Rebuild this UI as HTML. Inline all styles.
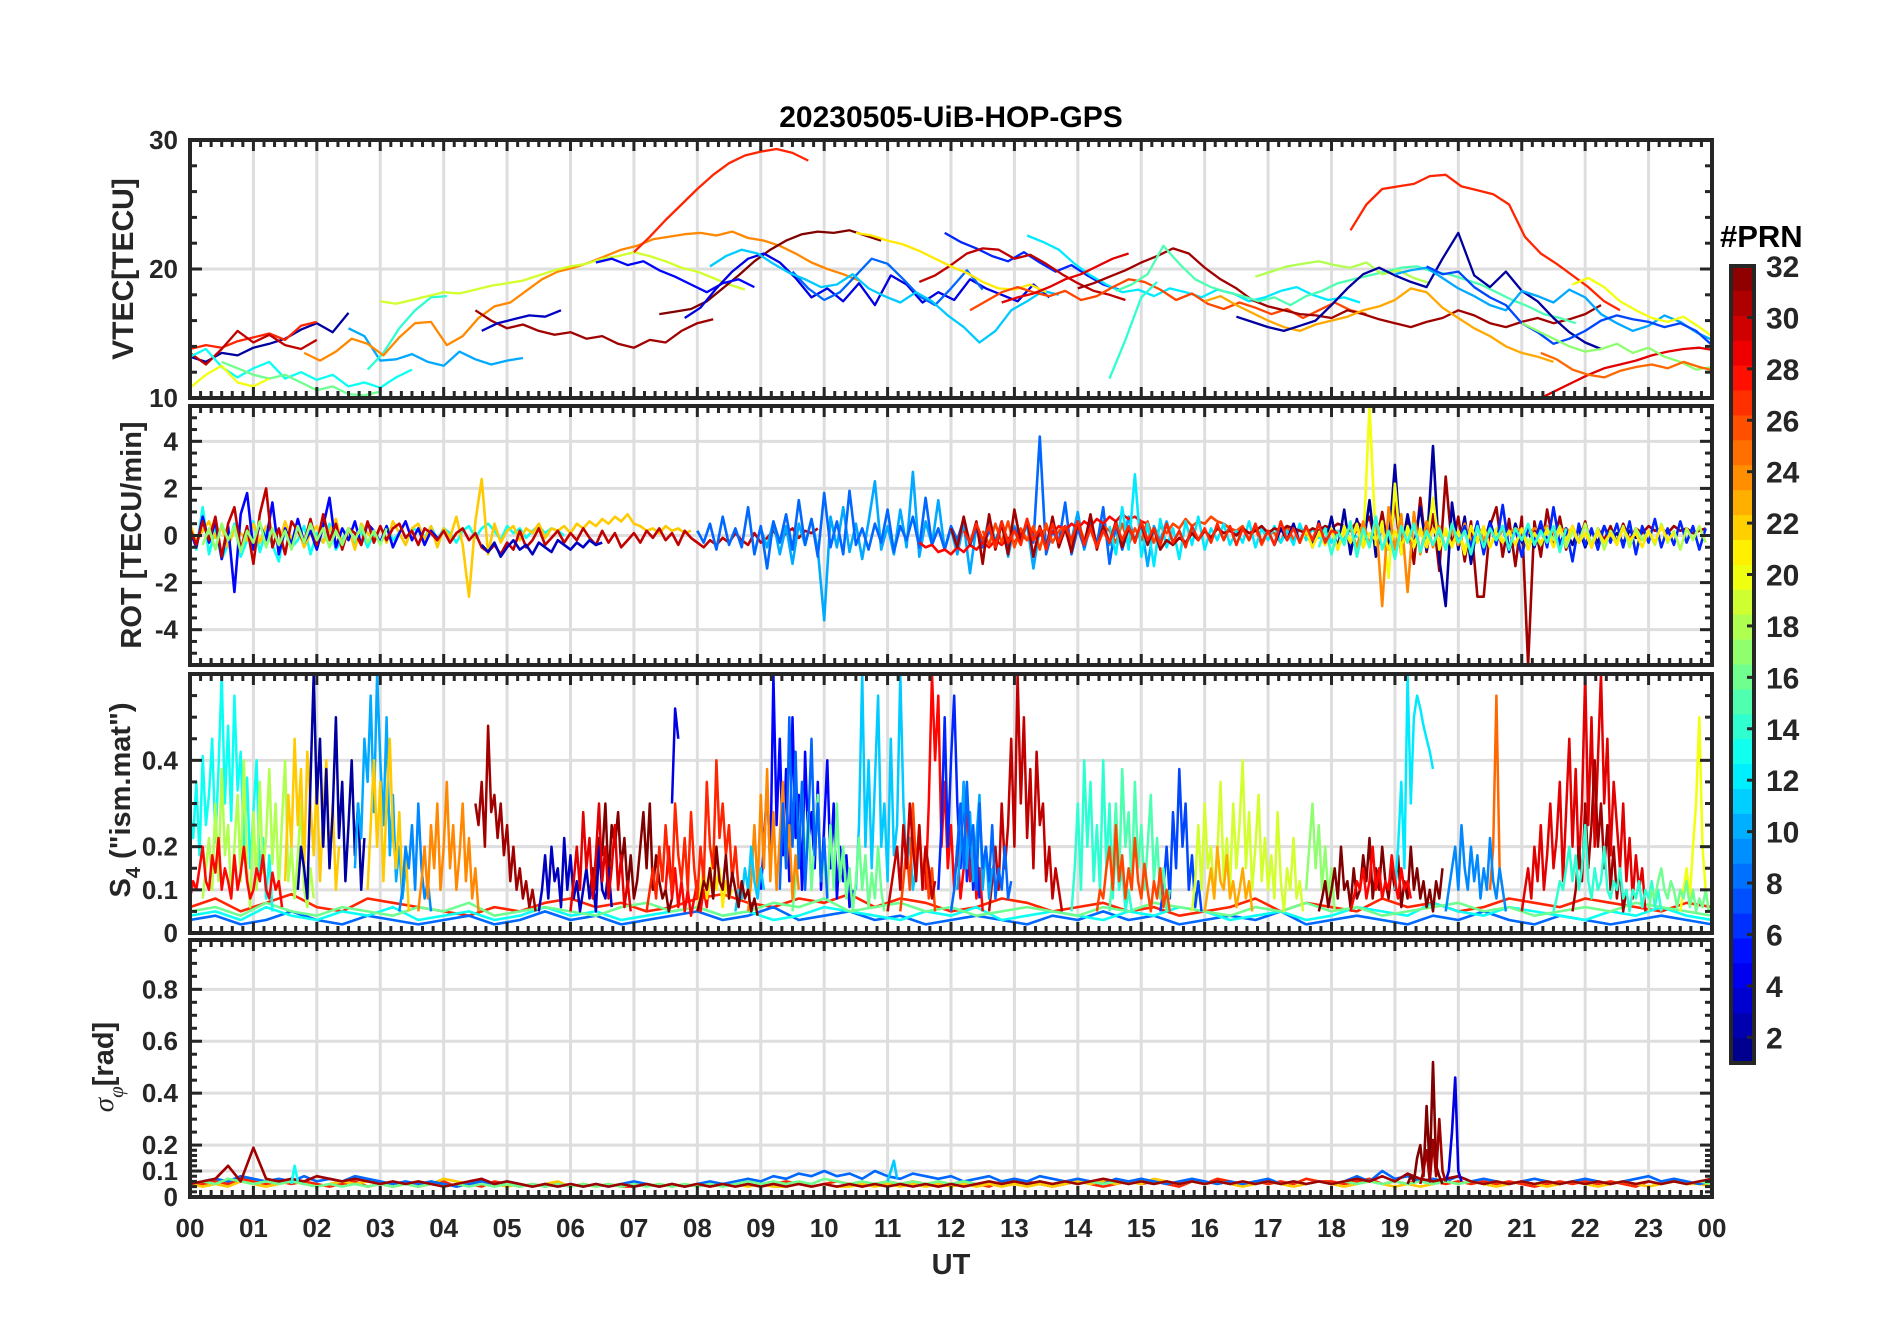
<!DOCTYPE html>
<html><head><meta charset="utf-8"><title>20230505-UiB-HOP-GPS</title>
<style>
html,body{margin:0;padding:0;background:#fff;}
svg{display:block;font-family:"Liberation Sans",Arial,sans-serif;}
</style></head>
<body>
<svg id="fig" width="1902" height="1330" viewBox="0 0 1902 1330" xmlns="http://www.w3.org/2000/svg">
<rect width="1902" height="1330" fill="#fff"/>
<text x="951" y="127" text-anchor="middle" font-size="30" font-weight="bold" fill="#000">20230505-UiB-HOP-GPS</text>
<g id="grids"></g>
<g id="series"></g>
<g id="axes"></g>
<text transform="translate(133,269) rotate(-90)" text-anchor="middle" font-size="30" font-weight="bold" fill="#262626">VTEC[TECU]</text>
<text transform="translate(141,535) rotate(-90)" text-anchor="middle" font-size="29" font-weight="bold" fill="#262626">ROT [TECU/min]</text>
<text transform="translate(130,800) rotate(-90)" text-anchor="middle" font-size="29" font-weight="bold" fill="#262626">S<tspan font-size="20" dy="10">4</tspan><tspan dy="-10"> ("ism.mat")</tspan></text>
<text transform="translate(113,1067) rotate(-90)" text-anchor="middle" font-size="29" fill="#262626"><tspan font-style="italic" font-family="Liberation Serif,serif">σ</tspan><tspan font-style="italic" font-family="Liberation Serif,serif" font-size="21" dy="10">φ</tspan><tspan dy="-10" font-weight="bold">[rad]</tspan></text>
<text x="951" y="1274" text-anchor="middle" font-size="29" font-weight="bold" fill="#262626">UT</text>
<g id="colorbar"></g>
<text x="1720" y="247" font-size="31" font-weight="bold" fill="#000">#PRN</text>
</svg>
<script>
// ---------- VTEC data (hours, TECU), step 0.25 h ----------
const vtecStep = 0.25;
const vtecPrn = [2,27,30,13,16,20,10,14,24,19,31,32,3,27,5,4,8,11,6,30,21,12,26,29,31,14,15,18,23,2,27,10,7,29,20,17,25];
const vtecStart = [0,0,0,0,0.5,0,2.5,2.8,1.8,3,4.5,7.4,4.6,7.0,6.4,7.8,9.5,8.2,11.9,11.5,10.5,13.2,12.3,12.8,14,14.5,14.6,16.8,16.0,16.5,18.3,19,19.5,21.3,21.8,21,21.3];
const vtecVals = [
[13.2,12.8,13.5,13.3,13.9,14.2,14.6,15.3,15.8,15.1,16.6],
[13.8,14.1,13.9,14.4,14.7,15.0,14.5,15.6,15.9],
[13.5,12.6,13.8,15.2,14.3,14.9,14.1,13.8,14.5],
[13.2,13.8,12.4,11.6,12.3,12.8,11.5,12.0,11.4,11.8,10.9,11.2,10.8,11.6,12.2],
[12.8,12.3,11.8,11.5,11.8,11.2,10.6,10.9,10.3,10.2,10.5],
[10.8,11.8,12.5,11.2,10.9,11.5],
[15.4,14.8,12.9,13.0,13.4,12.8,12.5,13.6,13.0,12.6,12.9,13.1],
[12.2,13.5,15.4,16.8,17.8,17.9],
[13.5,12.9,13.6,14.6,14.2,13.3,14.7,15.8,15.9,14.1,14.8,16.2,17.1,17.4,18.3,19.2,19.8,20.1,20.5,21.0,21.5,21.8,22.3,22.5,22.7,22.8,22.6,22.9,22.4,22.2,21.8,21.2,20.5,20.0,19.6,19.1],
[17.5,17.3,17.6,17.9,18.2,18.1,18.4,18.7,18.9,19.1,19.5,19.9,20.2,20.4,20.8,21.0,21.3,21.0,20.6,20.1,19.8,19.3,18.8,18.4],
[16.8,16.0,15.4,15.7,15.2,14.9,15.1,14.6,14.8,14.2,13.9,14.5,14.3,15.2,15.8,16.1],
[16.5,16.7,16.9,17.5,18.5,19.5,20.6,21.5,22.2,22.7,22.9,22.8,23.0,22.6,22.2],
[15.2,15.8,16.1,16.4,16.3,16.8],
[21.3,22.5,23.8,25.0,26.2,27.3,28.2,28.8,29.1,29.3,29.0,28.4],
[20.5,20.8,20.3,20.6,19.9,19.4,18.8,18.2,18.9,19.2,18.6],
[16.2,17.0,18.5,19.8,20.8,21.2,20.5,19.3,17.8,18.5,17.5,18.9,17.2,19.5,18.8,17.4,18.2,17.6,19.2,18.5,18.0,17.5,18.8,17.8],
[19.8,18.5,17.6,18.2,19.5,20.8,20.4,19.2,17.9,17.2,18.5,19.9,18.4],
[20.2,21.0,21.5,21.2,20.4,19.7,19.2,18.6,18.8,19.6,18.5,17.9,17.4,18.2,17.5,16.4,15.5,14.3,15.2,16.8,17.5,18.3,18.0],
[22.8,22.1,21.6,21.0,20.6,21.3,20.5,19.8,20.3,19.5,18.8,18.4],
[19.0,19.5,20.3,21.2,21.6,21.5,20.8,21.1,20.4,19.6,18.9,18.3,18.0,17.6],
[22.8,22.6,22.2,21.9,21.4,20.8,20.2,19.7,19.0,18.5,18.4,18.8,18.2],
[22.6,22.1,21.5,20.4,19.5,18.8,18.2,18.4,17.9,18.5,18.2,17.8,18.4,18.1,17.5,17.8,18.3,18.6,18.0,17.6,17.8,17.4],
[16.8,17.5,18.2,18.6,18.2,17.9,18.3,17.6,17.9,18.6,19.2,19.0,18.4,17.6,18.1,17.3,16.9,17.4,17.0,16.5,16.9,16.2,16.8,17.4,16.8,16.5],
[17.4,17.8,18.1,18.6,19.2,19.6,20.2,20.8,21.2],
[18.5,18.9,19.4,19.9,20.5,21.0,21.6,21.2,20.1,19.2,18.5,17.6,17.1,16.8,16.5,16.4,16.2,16.8,16.5,16.1,15.8,15.5,15.9,16.2,16.8,16.4,15.8,15.5,15.9,16.2,15.8,16.1,16.5,17.2],
[11.5,14.5,17.8,19.0],
[18.3,18.8,19.6,21.8,20.4,19.2,18.6,18.2,17.9,17.5,17.8,17.2,17.9,18.3,18.9,19.2,19.5,19.8,20.1,20.2,19.8,19.6,19.2,18.8,18.2,17.6,17.1,16.5,16.2,15.8],
[19.4,19.8,20.2,20.4,20.6,20.3,20.1,20.5,19.6,19.9,19.3,18.9],
[17.5,17.9,17.2,16.6,16.0,15.5,15.2,15.7,16.0,16.3,16.8,17.1,17.6,18.5,18.2,17.0,16.2,15.4,14.8,14.0,13.5,13.2,12.8],
[16.3,15.9,15.5,15.2,15.6,16.0,17.2,18.5,19.6,20.1,19.5,19.0,18.6,20.8,22.8,19.5,18.6,19.8,18.3,17.5,16.2,15.1,14.3,13.8],
[23.0,25.0,26.2,26.4,26.6,27.2,27.3,26.4,26.1,25.8,25.0,22.5,21.2,20.4,19.5,18.6,17.5,16.8],
[19.6,19.9,20.1,19.3,18.5,17.9,17.2,16.8,18.3,17.9,17.4,18.4,17.8,16.5,15.8,15.2,15.6,16.4,15.9,15.1,14.5,13.8,14.2,13.4,12.8,13.1,12.6,12.2,11.5,12.1],
[20.2,19.6,19.8,18.6,17.8,17.2,15.8,15.1,14.2,14.6,15.2,16.0,16.4,16.1,15.9,15.5,15.8,15.2,14.1,13.4,12.5,12.0,11.4,11.0],
[10.0,10.6,11.2,11.8,12.3,12.6,12.9,13.3,13.6,13.8,13.9,13.7,13.5,13.8,14.1],
[18.8,19.3,18.6,17.5,16.8,16.2,15.9,16.3,15.5,14.6,14.2,13.4,13.1,12.6,12.3,11.4,11.2],
[15.8,15.2,14.6,14.0,13.6,13.8,14.2,13.5,13.9,13.2,12.8,12.2,12.4,12.1,12.5],
[13.5,13.0,12.2,11.8,11.6,12.1,12.4,12.6,12.3,12.8,12.4,12.1,12.5]
];

// ---------- ROT data (TECU/min), step 0.1 h ----------
const rotStep = 0.1;
const rotPrn = [13,22,5,30,3,10,8,28,26,12,31,2,20,24,6,18,21,14,27,17];
const rotStart = [0,0,0,0,4.6,9.0,8.0,11.5,12.5,14.5,12.0,17.0,17.8,18.3,20.0,21.0,17.5,17.8,12.2,0.2];
const rotVals = [
[0.4,-0.6,1.2,-0.8,0.3,-1.0,-0.4,0.5,-0.9,-0.2,0.6,-0.7,0.2,-0.4,-1.1,0.3,-0.5,-0.2,0.4,-0.8,0.1,-0.3,0.5,-0.6,-0.2,0.3,-0.4,0.2,-0.5,0.1,-0.3,0.4,-0.2,0.1,-0.4,0.3,0.2,-0.1,0.4,-0.2,0.3,0.1,-0.3,0.2,0.4,-0.1,0.3,0.5,0.2,-0.2,0.4,0.1,0.3,-0.1,0.2,0.4,0.1,0.3,0.2,0.0],
[0.5,-0.3,0.2,0.6,-0.1,0.4,-0.5,0.3,0.1,-0.2,0.5,-0.3,0.4,0.2,-0.4,0.6,-0.2,0.3,-0.5,0.1,0.4,-0.3,0.2,0.7,-0.4,0.3,-0.6,0.5,0.1,-0.2,0.4,-0.3,0.6,0.1,-0.4,0.3,0.5,-0.2,0.4,-0.5,0.3,-0.1,0.8,-0.4,-2.6,0.6,2.4,-0.8,0.5,-0.3,0.2,0.4,-0.2,0.3,0.1,0.5,-0.1,0.3,0.2,0.4,0.1,0.5,0.3,0.6,0.4,0.7,0.5,0.8,0.6,0.9,0.5,0.4,0.2,0.3,0.1,0.4,0.2,0.3,0.1,0.2],
[0.2,-0.5,0.8,-0.3,0.6,-1.0,0.4,-2.4,0.9,1.8,-0.6,0.5,-0.2,1.4,-0.8,0.3,-0.4,0.7,-0.3,0.2,-0.6,0.4,1.6,-0.5,0.3,-0.2,0.6,-0.4,0.5,0.2,-0.3,0.4,-0.5,0.1,0.6,-0.2,0.3,-0.4,0.2,-0.1],
[0.3,-0.4,0.6,-0.2,0.8,-0.9,0.5,1.2,-0.6,0.4,-1.2,0.9,2.0,-0.5,0.3,-0.8,0.6,0.2,-0.3,0.7,-0.4,0.9,-0.2,0.5,-0.6,0.3,0.1,-0.4,0.6,-0.3,0.4,-0.2,0.3,0.5,-0.1,0.2,-0.4,0.3,0.1,-0.2,0.2,-0.3,0.1,0.3,-0.2,0.1,-0.5,-0.7,-0.4,-0.8,-0.3,-0.6,0.2,-0.5,-0.2,0.3,-0.4,-0.1,0.2,-0.3,0.1,-0.2,0.3,-0.1,-0.4,0.2,-0.3,0.1,-0.5,-0.2,0.1,-0.3,0.2,-0.1,0.3,-0.2,0.1,-0.4,0.2,-0.1,-0.3,-0.5,-0.2,-0.4,-0.1,-0.3,0.1,-0.2,-0.4,0.1,-0.3,-0.1,0.2,-0.2,0.1,0.3,-0.1,0.2,0.1,0.3],
[-0.4,-0.7,-0.3,-0.9,-0.5,-0.2,-0.6,-0.4,-0.8,-0.3,-0.5,-0.7,-0.2,-0.4,-0.6,-0.3,-0.5,-0.2,-0.4,-0.3],
[0.3,-0.5,0.6,-0.8,0.4,-1.2,0.5,-0.4,0.7,-0.6,-3.6,0.8,-0.5,1.2,-0.7,0.5,-1.0,0.6,2.3,-0.6,0.4,-0.8,1.1,-0.5,2.7,-0.9,0.6,-0.4,1.5,-0.6,0.3,-0.8,0.5,-1.6,0.4,-0.5,0.8,-0.3,0.6,-0.9,0.4,-0.3,0.5,-1.4,0.3,-0.5,0.7,-0.4,0.3,-0.2,1.0,-0.6,0.4,-0.3,0.6,-0.4,0.2,-0.5,0.8,-0.3,0.5,-1.3,0.4,-0.2,0.6,-0.3,0.2,-0.4,0.3,-0.2],
[0.2,-0.3,0.5,-0.6,0.8,-0.4,0.3,-0.5,1.2,-0.8,0.4,-1.4,0.6,-0.3,0.9,-0.6,1.5,-0.4,0.7,-0.9,1.8,-0.5,0.6,-0.8,1.9,-0.4,0.3,-0.6,0.5,-0.3,1.1,-0.7,0.4,-0.2,0.8,-0.5,1.6,-0.4,0.3,-0.6,0.4,-0.2,0.7,-0.4,0.3,-0.5,0.2,-0.3,0.6,-0.4,0.3,-0.2,0.5,-0.3,4.2,-0.8,0.2,-0.3,1.4,-0.8,0.3,-0.5,0.6,-0.4,1.2,-1.2,0.5,-0.6,0.3,-0.2],
[-0.3,-0.5,-0.4,-0.7,-0.6,-0.8,-0.5,-0.7,-0.4,-0.6,-0.3,-0.5,-0.2,-0.4,-0.1,-0.3,0.1,-0.2,0.2,0.0,0.3,0.1,0.4,0.2,0.5,0.3,0.6,0.4,0.7,0.5,0.8,0.6,0.9,0.7,0.8,0.6,0.5],
[0.2,-0.4,0.5,-0.3,0.6,-0.5,0.3,-0.2,0.4,-0.6,0.5,-0.3,0.2,0.4,-0.4,0.6,-0.2,0.3,-0.5,0.4,0.2,-0.3,0.5,-0.4,0.3,-0.2,0.6,-0.3,0.4,0.1,0.5,0.3,0.7,0.4,0.6,0.5,0.8,0.6,0.5,0.3,0.2,0.4,-0.2,0.3,-0.4,0.2,0.1,-0.3,0.4,-0.2,0.3,0.1,-0.4,0.2,-0.3,0.3,0.1,-0.2,0.4,0.1],
[0.4,-0.8,1.2,-0.6,2.6,-0.9,0.5,-1.3,0.7,-0.5,0.3,-1.0,0.6,-0.4,0.8,-0.6,0.3,-0.2,0.5,-0.4,0.2,-0.3,0.6,-0.5,0.3,-0.2,0.4,-0.3,0.2,-0.4,0.5,-0.2,0.3,-0.1,0.4,-0.3,0.2,-0.2,0.3,-0.1],
[0.3,-0.5,0.8,-0.4,0.6,-1.2,0.9,-0.6,0.5,-0.8,1.1,-0.3,0.7,-0.9,0.4,-0.6,0.8,-0.5,0.3,-0.7,0.6,-0.4,0.9,-0.6,0.4,-0.3,0.6,-0.5,0.3,-0.2,0.5,-0.4,0.3,-0.6,-0.2,-0.4,-0.1,-0.3,0.1,-0.2,0.2,-0.1,0.3,0.1,0.2,0.0,0.3,0.1,0.2,0.4,0.1,0.3,0.2,0.4,0.3,0.2,0.1,0.3,0.2,0.4,0.3,0.5,0.4,0.2,0.6,0.3,0.8,-0.4,1.0,-0.6,1.4,-0.8,0.6,-1.2,1.6,-0.7,0.9,-1.5,2.5,-0.5,0.8,-1.1,0.6,-2.6,-2.6,0.4,1.2,-0.9,0.7,-1.3,0.8,-5.5,0.6,-0.9,1.1,-0.4,0.8,-0.6,0.4,-0.3,0.6,-0.5,0.3,-0.2,0.4,-0.3,0.5,-0.2,0.3,0.1,0.4,0.2,0.3,0.1,0.4,0.2,0.3,0.1,0.2,0.3],
[0.2,-0.4,0.3,-0.2,0.5,-0.3,0.4,-0.5,0.6,-0.4,0.8,-0.6,1.1,-0.8,0.7,-0.5,1.5,-0.9,0.6,-0.4,3.0,-0.7,0.9,-0.5,1.2,-0.6,3.8,-1.0,-3.0,1.4,-0.6,0.8,-1.2,0.5,-0.4,0.6,-0.3,0.4,-0.7,0.5,-0.3,0.2,-0.5,0.4,-0.2,0.3,-0.6,0.2,-0.4,0.3,-0.5,0.2,-0.3,0.4,-0.2,0.1,-0.3,0.2,-0.1,0.2],
[0.2,-0.4,0.3,-0.6,0.4,-0.3,0.5,-0.5,5.5,-0.4,0.6,-1.8,2.2,-0.8,0.4,-0.5,0.3,-0.4,1.6,-0.6,0.3,-0.5,0.2,-0.8,0.4,-0.3,0.2,-0.5,0.3,-0.2],
[0.3,-0.5,0.6,-0.4,0.8,-3.0,1.2,-0.6,0.9,-2.4,1.0,-0.8,0.6,-0.5,0.4,-0.6,0.3,-0.4,0.5,-0.3,0.4,-0.2,0.3,-0.1,0.2,0.1,0.3,0.2,0.1,0.3,0.2,0.4,0.1,0.2,0.3,0.1],
[-0.3,0.4,-0.5,0.6,-0.8,0.5,-0.4,1.3,-0.6,0.3,-0.9,0.4,-0.3,0.6,-0.5,1.2,-0.4,0.3,-1.1,0.5,-0.4,0.3,-0.6,0.4,-0.3,0.5,-0.5,0.6,-0.8,0.4,-0.3,0.7,-0.5,0.3,-0.4,0.6,-0.3,0.4,-0.6,0.3],
[0.2,-0.3,0.1,-0.4,0.3,-0.2,0.4,-0.5,0.2,-0.3,0.5,-0.4,0.3,-0.6,0.2,-0.3,0.4,-0.5,0.3,-0.2,0.2,-0.4,0.5,-0.3,0.2,-0.6,0.3,-0.2,0.4,-0.3],
[-0.3,0.2,-0.5,0.1,-0.4,0.3,-0.6,0.2,-0.3,0.4,-0.5,0.1,-0.2,0.3,-0.6,0.2,-0.4,0.1,-0.3,0.2,-0.5,0.3,-0.2,0.1,-0.4,0.2,-0.6,0.3,-0.2,0.4,-0.5,0.1,-0.3,0.2,-0.4,0.3,-0.6,0.1,-0.3,0.2,-0.5,0.3,-0.2,0.4,-0.3,0.1,-0.5,0.2,-0.3,0.1,-0.4,0.3,-0.2,0.1,-0.5,0.2,-0.3,0.4,-0.2,0.1],
[-0.5,0.3,-0.8,0.2,-0.4,0.6,-0.9,0.3,-0.5,0.8,-0.6,0.2,-1.0,0.4,-0.3,0.5,-0.7,0.2,-0.4,0.3,-0.6,0.5,-0.3,0.2,-0.8,0.4,-0.5,0.3,-0.2,0.4,-0.6,0.3,-0.2,0.5,-0.4,0.2,-0.3,0.4,-0.7,0.3],
[0.2,-0.3,0.5,-0.2,0.4,-0.5,0.6,-0.3,0.2,-0.4,0.7,-0.2,0.3,-0.6,0.5,-0.3,0.4,-0.2,0.6,-0.4,0.3,-0.5,0.2,-0.3,0.5,-0.2,0.4,-0.3,0.6,-0.2,0.3,-0.4,0.5,-0.3,0.2,-0.5,0.4,-0.2,0.3,-0.3,0.5,-0.2,0.4,-0.4,0.3,-0.2,0.5,-0.3,0.2,-0.4,0.6,-0.2,0.3,-0.3,0.4,-0.2,0.5,-0.3,0.2,0.1],
[-0.4,0.3,-0.6,0.5,-0.2,0.4,-0.7,0.2,-0.3,0.6,-0.5,0.3,-0.4,0.2,-0.6,0.4,-0.3,0.5,-0.2,0.3,-0.5,0.2,-0.4,0.3,-0.2,0.4,-0.3,0.2,-0.4,0.3]
];

// ---------- S4 data, step 0.05 h ----------
const s4Step = 0.05;
const s4Prn = [13,18,22,2,10,22,9,31,32,3,4,28,5,11,16,28,30,14,7,19,17,32,12,25,29,31,20,24,8,26,6,10,21,15,29,24,28,27,11,32,8,30,26,23,28,9,14,16];
const s4Start = [0,0.2,1.5,1.7,2.6,2.8,3.3,4.5,6.3,5.5,7.6,7.5,9.0,10.5,9.5,11.6,12.6,13.9,15.3,15.8,17.6,17.8,19.0,20.5,21.0,21.8,23.5,8.8,9.3,11.2,11.8,12.1,8.0,14.5,6.0,3.6,0,7.2,8.6,8.0,12.0,11.0,14.3,16.0,18.3,19.8,21.5,23.0];
const s4Vals = [
[0.28,0.22,0.35,0.18,0.41,0.25,0.32,0.45,0.21,0.38,0.6,0.3,0.48,0.26,0.55,0.33,0.42,0.2,0.36,0.15,0.28,0.4,0.12,0.22,0.08,0.18,0.05],
[0.08,0.15,0.22,0.1,0.3,0.12,0.38,0.18,0.25,0.08,0.2,0.32,0.12,0.4,0.15,0.06,0.28,0.1,0.35,0.14,0.22,0.38,0.16,0.3,0.1,0.26,0.4,0.12,0.2,0.08,0.18,0.3,0.1,0.06,0.15,0.08],
[0.12,0.32,0.2,0.45,0.25,0.38,0.15,0.42,0.3,0.18,0.36,0.12,0.28,0.4,0.16,0.3,0.1,0.2],
[0.1,0.2,0.15,0.08,0.35,0.6,0.3,0.45,0.2,0.38,0.15,0.28,0.5,0.22,0.35,0.12,0.25,0.4,0.18,0.3,0.1,0.22],
[0.15,0.3,0.22,0.45,0.35,0.55,0.28,0.6,0.4,0.25,0.5,0.18,0.32,0.12,0.2,0.08,0.15],
[0.1,0.25,0.4,0.2,0.35,0.12,0.3,0.45,0.22,0.15,0.28,0.1,0.2,0.05],
[0.05,0.1,0.2,0.15,0.25,0.1,0.3,0.15,0.08,0.12,0.05],
[0.3,0.25,0.35,0.2,0.48,0.28,0.32,0.22,0.3,0.18,0.25,0.12,0.2,0.1,0.15,0.08,0.12,0.06,0.1,0.05],
[0.08,0.15,0.1,0.22,0.18,0.3,0.12,0.25,0.2,0.28,0.15,0.22,0.1,0.18,0.08,0.12,0.2,0.28,0.15,0.3,0.1,0.18,0.12,0.08,0.1,0.05,0.08],
[0.05,0.1,0.18,0.08,0.2,0.12,0.15,0.06,0.22,0.1,0.18,0.08,0.12,0.05,0.1,0.15,0.08,0.12,0.05,0.2,0.1,0.08,0.15,0.06],
[0.3,0.52,0.45],
[0.1,0.2,0.08,0.15,0.06,0.12,0.05,0.1,0.04,0.08,0.12,0.05,0.1,0.06,0.15,0.08],
[0.1,0.2,0.35,0.15,0.6,0.25,0.45,0.18,0.38,0.12,0.5,0.22,0.32,0.1,0.42,0.2,0.28,0.15,0.35,0.1,0.25,0.4,0.15,0.3,0.08,0.2,0.12,0.18,0.06,0.1],
[0.1,0.25,0.6,0.2,0.4,0.15,0.35,0.55,0.2,0.3,0.12,0.45,0.18,0.25,0.6,0.3,0.15,0.22,0.1,0.15],
[0.05,0.12,0.2,0.35,0.15,0.28,0.1,0.22,0.32,0.12,0.18,0.08,0.25,0.1,0.3,0.12,0.2,0.08,0.15,0.05,0.12,0.22,0.1,0.18,0.06,0.14,0.08,0.2,0.1,0.05],
[0.1,0.3,0.6,0.4,0.55,0.2,0.35,0.15,0.25,0.1,0.2,0.08,0.15,0.3,0.12,0.22,0.08,0.15,0.05],
[0.05,0.12,0.2,0.1,0.3,0.15,0.25,0.45,0.2,0.6,0.3,0.5,0.22,0.38,0.15,0.42,0.25,0.3,0.12,0.2,0.08,0.15,0.1,0.05],
[0.05,0.15,0.3,0.1,0.4,0.2,0.35,0.12,0.25,0.1,0.4,0.15,0.3,0.08,0.2,0.1,0.15,0.05,0.1,0.05],
[0.05,0.1,0.2,0.08,0.28,0.15,0.38,0.2,0.3,0.1,0.18,0.06,0.12,0.05],
[0.05,0.12,0.25,0.1,0.3,0.15,0.2,0.08,0.18,0.35,0.12,0.22,0.1,0.3,0.15,0.25,0.4,0.15,0.28,0.1,0.2,0.32,0.12,0.22,0.1,0.18,0.08,0.28,0.12,0.05,0.15,0.1,0.22,0.08,0.12,0.05],
[0.1,0.2,0.3,0.15,0.25,0.1,0.2,0.08,0.15,0.05],
[0.05,0.08,0.12,0.06,0.1,0.15,0.08,0.2,0.1,0.12,0.06,0.15,0.08,0.1,0.18,0.12,0.22,0.08,0.15,0.1,0.2,0.12,0.08,0.15,0.1,0.18,0.06,0.12,0.08,0.2,0.1,0.15,0.08,0.12,0.06,0.1,0.05,0.12,0.08,0.15],
[0.1,0.2,0.35,0.15,0.6,0.3,0.5,0.55,0.52,0.48,0.45,0.42,0.38],
[0.1,0.2,0.55,0.15,0.1],
[0.05,0.1,0.15,0.08,0.2,0.12,0.25,0.1,0.18,0.3,0.15,0.22,0.35,0.12,0.28,0.45,0.2,0.38,0.15,0.3,0.6,0.25,0.5,0.2,0.4,0.6,0.3,0.45,0.18,0.35,0.25,0.15,0.3,0.12,0.22,0.08,0.18,0.1,0.15,0.05],
[0.05,0.1,0.2,0.12,0.3,0.15,0.25,0.4,0.2,0.3,0.15,0.25,0.1,0.2,0.08,0.15,0.05,0.1],
[0.05,0.1,0.15,0.08,0.2,0.3,0.5,0.2,0.1,0.05],
[0.05,0.12,0.25,0.1,0.32,0.15,0.38,0.12,0.28,0.1,0.22,0.35,0.15,0.25,0.08,0.18,0.1],
[0.1,0.3,0.15,0.5,0.2,0.42,0.15,0.35,0.1,0.25,0.45,0.18,0.3,0.12,0.22,0.08],
[0.05,0.12,0.2,0.1,0.3,0.15,0.25,0.12,0.2,0.08,0.15,0.05],
[0.1,0.25,0.5,0.2,0.4,0.55,0.3,0.15,0.35,0.12,0.25,0.1,0.2,0.08],
[0.1,0.2,0.35,0.15,0.28,0.12,0.22,0.32,0.1,0.2,0.08,0.15],
[0.05,0.1,0.15,0.08,0.12,0.2,0.1,0.15,0.06,0.12,0.08,0.1],
[0.05,0.15,0.3,0.12,0.38,0.2,0.28,0.1,0.35,0.15,0.25,0.1,0.2,0.32,0.12,0.22,0.08,0.15,0.05,0.1],
[0.05,0.12,0.2,0.1,0.28,0.15,0.22,0.08,0.18,0.3,0.12,0.2,0.08,0.15,0.25,0.1,0.18,0.06,0.12,0.05],
[0.05,0.12,0.2,0.08,0.25,0.15,0.3,0.1,0.2,0.35,0.15,0.25,0.1,0.18,0.3,0.12,0.22,0.08,0.15,0.05],
[0.08,0.12,0.1,0.15,0.2,0.12,0.1,0.18,0.14,0.22,0.1,0.15,0.12,0.08,0.18,0.1,0.14,0.2,0.12,0.08,0.1,0.15,0.12,0.18,0.1,0.08,0.14,0.1,0.12,0.06],
[0.05,0.1,0.15,0.08,0.2,0.12,0.25,0.15,0.1,0.3,0.18,0.12,0.22,0.1,0.28,0.15,0.08,0.2,0.12,0.35,0.2,0.15,0.4,0.22,0.3,0.18,0.25,0.12,0.2,0.1],
[0.05,0.1,0.08,0.15,0.1,0.2,0.12,0.08,0.15,0.1],
[0.05,0.08,0.12,0.1,0.15,0.08,0.2,0.12,0.1,0.18,0.08,0.14,0.1,0.06,0.12,0.08,0.1,0.05,0.08,0.04],
[0.05,0.1,0.2,0.3,0.15,0.35,0.2,0.25,0.1,0.3,0.15,0.2,0.12,0.25,0.08,0.15,0.1,0.2,0.08,0.12],
[0.05,0.1,0.15,0.2,0.1,0.25,0.15,0.3,0.2,0.12,0.25,0.1,0.2,0.15,0.08,0.12],
[0.05,0.1,0.08,0.15,0.2,0.1,0.25,0.12,0.18,0.08,0.15,0.1,0.22,0.12,0.08,0.16,0.1,0.05,0.12,0.08,0.15,0.06,0.1,0.05],
[0.05,0.1,0.15,0.08,0.2,0.12,0.1,0.18,0.08,0.12,0.06,0.1,0.15,0.08,0.12,0.05],
[0.05,0.08,0.12,0.1,0.15,0.08,0.12,0.2,0.1,0.15,0.08,0.12,0.1,0.18,0.12,0.08,0.15,0.1,0.12,0.08],
[0.05,0.1,0.15,0.2,0.1,0.25,0.15,0.1,0.2,0.12,0.18,0.08,0.15,0.1,0.22,0.12,0.08,0.15,0.1,0.05],
[0.05,0.08,0.12,0.1,0.15,0.2,0.12,0.18,0.1,0.15,0.25,0.12,0.08,0.15,0.1,0.12,0.2,0.1,0.08,0.12,0.1,0.15,0.08,0.1,0.05,0.1,0.08,0.12,0.06,0.1,0.08,0.12,0.06,0.1,0.05],
[0.05,0.1,0.08,0.12,0.15,0.1,0.08,0.12,0.1,0.06,0.1,0.08,0.12,0.06,0.1,0.05,0.08,0.06,0.1,0.05]
];
// low S4 background, step 0.4 h from 0 h
const s4BaseStep = 0.4;
const s4BasePrn = [27,8,13,16];
const s4BaseVals = [
[0.06,0.08,0.05,0.07,0.09,0.06,0.05,0.08,0.07,0.06,0.05,0.04,0.06,0.05,0.07,0.08,0.06,0.07,0.05,0.06,0.08,0.09,0.07,0.06,0.08,0.07,0.09,0.06,0.08,0.07,0.05,0.06,0.08,0.07,0.05,0.06,0.07,0.05,0.06,0.04,0.05,0.06,0.08,0.05,0.07,0.06,0.05,0.08,0.06,0.07,0.05,0.06,0.08,0.07,0.06,0.08,0.07,0.06,0.05,0.07,0.06],
[0.03,0.04,0.02,0.03,0.05,0.03,0.02,0.04,0.03,0.02,0.03,0.04,0.02,0.03,0.05,0.03,0.04,0.02,0.03,0.04,0.05,0.03,0.04,0.06,0.03,0.04,0.05,0.03,0.04,0.02,0.03,0.04,0.03,0.02,0.04,0.03,0.05,0.03,0.04,0.02,0.03,0.04,0.03,0.05,0.02,0.03,0.04,0.03,0.02,0.04,0.03,0.05,0.03,0.02,0.04,0.03,0.02,0.03,0.04,0.03,0.02],
[0.04,0.05,0.03,0.06,0.04,0.03,0.05,0.04,0.06,0.03,0.04,0.05,0.03,0.04,0.06,0.04,0.05,0.03,0.04,0.05,0.06,0.04,0.05,0.03,0.04,0.06,0.05,0.04,0.03,0.05,0.04,0.06,0.03,0.04,0.05,0.04,0.03,0.05,0.04,0.06,0.05,0.03,0.04,0.05,0.03,0.04,0.06,0.05,0.04,0.07,0.05,0.04,0.06,0.05,0.04,0.03,0.05,0.04,0.06,0.04,0.03],
[0.05,0.06,0.04,0.07,0.05,0.04,0.06,0.05,0.04,0.06,0.05,0.07,0.04,0.05,0.06,0.05,0.04,0.06,0.07,0.05,0.06,0.04,0.05,0.07,0.06,0.08,0.05,0.06,0.07,0.05,0.06,0.04,0.05,0.06,0.05,0.04,0.06,0.05,0.07,0.06,0.05,0.04,0.06,0.05,0.07,0.05,0.06,0.04,0.05,0.06,0.07,0.05,0.06,0.04,0.05,0.06,0.05,0.07,0.06,0.05,0.04]
];

// ---------- sigma-phi data (rad) ----------
const sigStep = 0.2;
const sigBasePrn = [27,22,8,16,31];
const sigBaseVals = [
[0.04,0.05,0.06,0.05,0.07,0.06,0.05,0.06,0.05,0.06,0.05,0.04,0.05,0.06,0.04,0.05,0.04,0.05,0.04,0.05,0.06,0.04,0.05,0.04,0.06,0.05,0.04,0.05,0.04,0.05,0.04,0.05,0.04,0.05,0.04,0.04,0.05,0.04,0.05,0.04,0.05,0.04,0.05,0.04,0.05,0.04,0.05,0.06,0.05,0.04,0.05,0.06,0.05,0.04,0.05,0.06,0.05,0.06,0.05,0.04,0.05,0.06,0.05,0.04,0.06,0.05,0.06,0.05,0.04,0.05,0.06,0.05,0.04,0.05,0.06,0.05,0.06,0.05,0.04,0.06,0.05,0.07,0.06,0.05,0.06,0.05,0.06,0.05,0.07,0.06,0.06,0.05,0.06,0.07,0.05,0.06,0.05,0.07,0.06,0.05,0.06,0.05,0.06,0.05,0.06,0.05,0.04,0.05,0.06,0.05,0.06,0.05,0.06,0.05,0.04,0.06,0.05,0.06,0.05,0.06,0.05],
[0.05,0.04,0.05,0.04,0.06,0.05,0.04,0.05,0.06,0.05,0.04,0.05,0.06,0.05,0.06,0.05,0.04,0.05,0.06,0.05,0.07,0.06,0.05,0.06,0.05,0.04,0.05,0.04,0.05,0.06,0.04,0.05,0.04,0.05,0.04,0.05,0.04,0.05,0.04,0.05,0.04,0.05,0.04,0.05,0.04,0.05,0.04,0.04,0.05,0.04,0.05,0.04,0.04,0.05,0.04,0.05,0.04,0.05,0.04,0.05,0.04,0.05,0.04,0.05,0.04,0.05,0.04,0.05,0.04,0.05,0.06,0.05,0.06,0.05,0.06,0.05,0.07,0.06,0.05,0.06,0.05,0.06,0.05,0.04,0.05,0.06,0.05,0.04,0.05,0.06,0.05,0.04,0.05,0.06,0.05,0.04,0.05,0.04,0.05,0.06,0.05,0.06,0.05,0.04,0.05,0.06,0.05,0.04,0.05,0.06,0.05,0.04,0.05,0.06,0.05,0.04,0.05,0.06,0.05,0.05,0.04],
[0.05,0.06,0.07,0.06,0.08,0.07,0.06,0.07,0.06,0.08,0.06,0.07,0.06,0.08,0.07,0.06,0.05,0.06,0.05,0.06,0.05,0.04,0.05,0.06,0.05,0.06,0.05,0.04,0.05,0.04,0.05,0.04,0.05,0.04,0.05,0.06,0.05,0.04,0.05,0.04,0.05,0.06,0.05,0.06,0.07,0.06,0.08,0.07,0.09,0.08,0.1,0.08,0.09,0.07,0.1,0.08,0.07,0.09,0.08,0.07,0.08,0.06,0.07,0.08,0.06,0.07,0.06,0.08,0.07,0.06,0.07,0.06,0.05,0.07,0.06,0.07,0.06,0.05,0.06,0.07,0.06,0.05,0.06,0.05,0.06,0.07,0.05,0.06,0.05,0.06,0.05,0.06,0.08,0.06,0.1,0.07,0.08,0.06,0.07,0.06,0.08,0.06,0.07,0.06,0.05,0.06,0.07,0.06,0.05,0.06,0.07,0.06,0.05,0.06,0.07,0.08,0.06,0.07,0.06,0.05,0.06],
[0.05,0.06,0.05,0.07,0.06,0.05,0.06,0.05,0.06,0.05,0.04,0.05,0.04,0.05,0.04,0.05,0.04,0.05,0.04,0.05,0.04,0.05,0.04,0.05,0.04,0.05,0.04,0.05,0.04,0.05,0.04,0.05,0.04,0.05,0.04,0.05,0.04,0.05,0.04,0.05,0.04,0.05,0.04,0.05,0.06,0.05,0.06,0.05,0.06,0.05,0.07,0.06,0.05,0.06,0.05,0.06,0.05,0.06,0.05,0.06,0.05,0.06,0.05,0.06,0.05,0.06,0.05,0.06,0.05,0.06,0.05,0.06,0.05,0.06,0.05,0.06,0.05,0.06,0.05,0.06,0.05,0.06,0.05,0.06,0.05,0.06,0.05,0.06,0.05,0.06,0.05,0.06,0.05,0.06,0.05,0.06,0.05,0.06,0.05,0.06,0.05,0.06,0.05,0.06,0.05,0.06,0.05,0.06,0.05,0.06,0.05,0.06,0.05,0.06,0.05,0.06,0.05,0.06,0.05,0.06,0.05],
[0.05,0.06,0.07,0.12,0.06,0.19,0.07,0.06,0.07,0.06,0.08,0.07,0.06,0.07,0.06,0.05,0.06,0.05,0.06,0.05,0.04,0.05,0.06,0.07,0.05,0.06,0.05,0.04,0.05,0.04,0.05,0.04,0.05,0.04,0.05,0.04,0.05,0.04,0.05,0.04,0.05,0.04,0.05,0.04,0.05,0.04,0.05,0.04,0.05,0.04,0.05,0.04,0.05,0.04,0.05,0.04,0.05,0.04,0.05,0.04,0.05,0.04,0.05,0.06,0.05,0.06,0.05,0.06,0.05,0.06,0.05,0.06,0.07,0.06,0.05,0.06,0.05,0.06,0.05,0.06,0.05,0.06,0.05,0.06,0.05,0.06,0.05,0.06,0.05,0.06,0.05,0.06,0.07,0.06,0.08,0.06,0.09,0.07,0.06,0.07,0.08,0.06,0.05,0.06,0.05,0.06,0.05,0.06,0.05,0.06,0.05,0.06,0.05,0.06,0.05,0.06,0.05,0.06,0.05,0.06,0.07]
];
const sigSpikeStep = 0.05;
const sigSpikePrn = [32,4,31,13,11];
const sigSpikeStart = [19.2,19.8,19.4,1.6,11.0];
const sigSpikeVals = [
[0.05,0.08,0.06,0.15,0.2,0.08,0.35,0.1,0.52,0.12,0.08,0.05],
[0.06,0.1,0.25,0.46,0.1,0.06],
[0.05,0.1,0.18,0.06,0.22,0.08,0.3,0.1,0.06],
[0.05,0.12,0.06],
[0.06,0.1,0.14,0.07]
];

// ---------- layout ----------
const X0 = 190, X1 = 1712;
const panels = [
  {name:'vtec', y0:140, y1:398, min:10, max:30, labels:[10,20,30], labelTxt:['10','20','30'], grid:[20], minor:[12,14,16,18,22,24,26,28]},
  {name:'rot', y0:406, y1:665, min:-5.5, max:5.5, labels:[-4,-2,0,2,4], labelTxt:['-4','-2','0','2','4'], grid:[-4,-2,0,2,4], minor:[-5,-4.5,-3.5,-3,-2.5,-1.5,-1,-0.5,0.5,1,1.5,2.5,3,3.5,4.5,5]},
  {name:'s4', y0:674, y1:933, min:0, max:0.6, labels:[0,0.1,0.2,0.4], labelTxt:['0','0.1','0.2','0.4'], grid:[0.1,0.2,0.4], minor:[0.05,0.15,0.25,0.3,0.35,0.45,0.5,0.55]},
  {name:'sigma-phi', y0:940, y1:1197, min:0, max:0.99, labels:[0,0.1,0.2,0.4,0.6,0.8], labelTxt:['0','0.1','0.2','0.4','0.6','0.8'], grid:[0.1,0.2,0.4,0.6,0.8], minor:[0.02,0.04,0.06,0.08,0.12,0.14,0.16,0.18,0.25,0.3,0.35,0.45,0.5,0.55,0.65,0.7,0.75,0.85,0.9,0.95]}
];
const hourLabels = ['00','01','02','03','04','05','06','07','08','09','10','11','12','13','14','15','16','17','18','19','20','21','22','23','00'];

const NS = 'http://www.w3.org/2000/svg';
const xScale = h => X0 + (X1 - X0) * h / 24;
const yScale = (p, v) => p.y1 - (v - p.min) / (p.max - p.min) * (p.y1 - p.y0);
function jet(v){
  const t = Math.max(0, Math.min(1, (v - 1) / 31));
  const c = x => Math.round(255 * Math.max(0, Math.min(1, 1.5 - Math.abs(4 * t - x))));
  return 'rgb(' + c(3) + ',' + c(2) + ',' + c(1) + ')';
}
function el(tag, attrs, parent){
  const e = document.createElementNS(NS, tag);
  for (const k in attrs) e.setAttribute(k, attrs[k]);
  parent.appendChild(e);
  return e;
}
const svg = document.getElementById('fig');
const gGrid = document.getElementById('grids');
const gSer = document.getElementById('series');
const gAx = document.getElementById('axes');
const defs = el('defs', {}, svg);

panels.forEach((p, i) => {
  const cp = el('clipPath', {id: 'clip' + i}, defs);
  el('rect', {x: X0, y: p.y0, width: X1 - X0, height: p.y1 - p.y0}, cp);
  for (let h = 1; h < 24; h++) {
    const gl = el('line', {x1: xScale(h), x2: xScale(h), y1: p.y0, y2: p.y1, stroke: '#dedede', 'stroke-width': 3}, gGrid);
    
    
  }
  p.grid.forEach(v => {
    const gl = el('line', {x1: X0, x2: X1, y1: yScale(p, v), y2: yScale(p, v), stroke: '#dedede', 'stroke-width': 3}, gGrid);
    
    
  });
});

function drawLine(pi, prn, t0, step, vals, w){
  const p = panels[pi];
  const pts = vals.map((v, k) => xScale(t0 + k * step).toFixed(1) + ',' + yScale(p, v).toFixed(1)).join(' ');
  const pl = el('polyline', {points: pts, fill: 'none', stroke: jet(prn), 'stroke-width': w, 'stroke-linejoin': 'round', 'clip-path': 'url(#clip' + pi + ')'}, gSer);
  
  
}
vtecVals.forEach((v, k) => drawLine(0, vtecPrn[k], vtecStart[k], vtecStep, v, 2.3));
rotVals.forEach((v, k) => drawLine(1, rotPrn[k], rotStart[k], rotStep, v, 2.6));
s4BaseVals.forEach((v, k) => drawLine(2, s4BasePrn[k], 0, s4BaseStep, v, 2.6));
s4Vals.forEach((v, k) => drawLine(2, s4Prn[k], s4Start[k], s4Step, v, 2.5));
sigBaseVals.forEach((v, k) => drawLine(3, sigBasePrn[k], 0, sigStep, v, 2.6));
sigSpikeVals.forEach((v, k) => drawLine(3, sigSpikePrn[k], sigSpikeStart[k], sigSpikeStep, v, 2.6));

// axes, ticks, labels
const AX = '#262626';
panels.forEach((p, i) => {
  const box = el('rect', {x: X0, y: p.y0, width: X1 - X0, height: p.y1 - p.y0, fill: 'none', stroke: AX, 'stroke-width': 4}, gAx);
  
  
  for (let m = 0; m <= 24 * 6; m++) {
    const x = xScale(m / 6), major = m % 6 === 0, L = major ? 11 : 7;
    el('line', {x1: x, x2: x, y1: p.y0, y2: p.y0 + L, stroke: AX, 'stroke-width': 3}, gAx);
    el('line', {x1: x, x2: x, y1: p.y1, y2: p.y1 - L, stroke: AX, 'stroke-width': 3}, gAx);
  }
  p.labels.concat(p.minor).forEach((v, k) => {
    const y = yScale(p, v), L = k < p.labels.length ? 12 : 7;
    el('line', {x1: X0, x2: X0 + L, y1: y, y2: y, stroke: AX, 'stroke-width': 3}, gAx);
    el('line', {x1: X1, x2: X1 - L, y1: y, y2: y, stroke: AX, 'stroke-width': 3}, gAx);
  });
  p.labels.forEach((v, k) => {
    const t = el('text', {x: 178, y: yScale(p, v) + 9, 'text-anchor': 'end', 'font-size': 26, 'font-weight': 'bold', fill: AX}, gAx);
    t.textContent = p.labelTxt[k];
    
    
  });
});
hourLabels.forEach((s, h) => {
  const t = el('text', {x: xScale(h), y: 1237, 'text-anchor': 'middle', 'font-size': 26, 'font-weight': 'bold', fill: AX}, gAx);
  t.textContent = s;
  
  
});

// colorbar
const cb = document.getElementById('colorbar');
const CB_X = 1731, CB_W = 23, CB_TOP = 266, CB_BOT = 1063;
const cbTicks = [2,4,6,8,10,12,14,16,18,20,22,24,26,28,30,32];
const cbY = v => CB_BOT - (v - 1) / 31 * (CB_BOT - CB_TOP);
for (let i = 0; i < 32; i++) {
  const y0 = CB_TOP + i * (CB_BOT - CB_TOP) / 32;
  const r = el('rect', {x: CB_X, y: y0, width: CB_W, height: (CB_BOT - CB_TOP) / 32 + 0.6}, cb);
  r.setAttribute('fill', jet(32 - (i + 0.5) * 31 / 32));
  
  
}
el('rect', {x: CB_X, y: CB_TOP, width: CB_W, height: CB_BOT - CB_TOP, fill: 'none', stroke: AX, 'stroke-width': 4}, cb);
cbTicks.forEach(v => {
  const y = cbY(v);
  el('line', {x1: CB_X + CB_W - 7, x2: CB_X + CB_W, y1: y, y2: y, stroke: AX, 'stroke-width': 3}, cb);
  const t = el('text', {x: 1766, y: y + 11, 'font-size': 30, 'font-weight': 'bold', fill: AX}, cb);
  t.textContent = String(v);
  
  
});
</script>
</body></html>
